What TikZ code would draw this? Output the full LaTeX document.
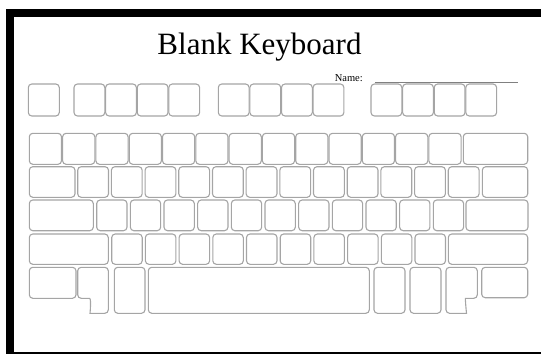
\documentclass[tikz,border=0pt]{standalone}
\usepackage{fontspec}
\setmainfont{Liberation Serif}
\definecolor{keygray}{RGB}{165,165,165}

\begin{document}
\begin{tikzpicture}[x=1pt, y=-1pt,
    key/.style={draw=keygray, line width=1.1pt, rounded corners=3.5pt},
    every node/.style={inner sep=0pt}]
        \useasboundingbox (0,0) rectangle (541,354);
        % frame
        \fill[black] (5.5,9.3) rectangle (541,17.3);
        \fill[black] (5.5,9.3) rectangle (13.5,354);
        \fill[black] (13.5,351.8) rectangle (541,354);
        % title
        \node[anchor=base] (title) at (259.5,54) {\fontsize{31}{36}\selectfont Blank Keyboard};
        \node[anchor=base east] (name) at (363,81.5) {\fontsize{10.5}{12}\selectfont Name:};
        \coordinate (l1) at (375,82.5);
        \coordinate (l2) at (518,82.5);
        \draw[gray, line width=0.7pt] (l1) -- (l2);
        % function row
        \draw[key] (28.3,84) rectangle (59.3,116);
        \foreach \s in {74,218.3,371}
            \foreach \i in {0,...,3}
                \draw[key] ({\s+31.6*\i},84) rectangle ({\s+31.6*\i+30.8},116);
        % number row
        \foreach \i in {0,...,12}
            \draw[key] ({29.3+33.3*\i},133.3) rectangle ({29.3+33.3*\i+32.2},164.3);
        \draw[key] (463.3,133.3) rectangle (527.7,164.3);
        % tab row
        \draw[key] (29.3,166.7) rectangle (75,197.3);
        \foreach \i in {0,...,11}
            \draw[key] ({77.7+33.69*\i},166.7) rectangle ({77.7+33.69*\i+30.8},197.3);
        \draw[key] (482.3,166.7) rectangle (527.7,197.3);
        % caps row
        \draw[key] (29.3,200) rectangle (93.3,230.7);
        \foreach \i in {0,...,10}
            \draw[key] ({96.7+33.66*\i},200) rectangle ({96.7+33.66*\i+30.3},230.7);
        \draw[key] (466,200) rectangle (528,230.7);
        % shift row
        \draw[key] (29.3,234) rectangle (108.3,264.3);
        \foreach \i in {0,...,9}
            \draw[key] ({111.7+33.7*\i},234) rectangle ({111.7+33.7*\i+30.5},264.3);
        \draw[key] (448.3,234) rectangle (527.7,264.3);
        % bottom row
        \draw[key] (29.3,267.3) rectangle (76,298.3);
        \draw[key] (93.5,313.3) .. controls (90,313.3) and (91.5,298.3) .. (86,298.3)
            -- (77.7,298.3) -- (77.7,267.3) -- (108.3,267.3) -- (108.3,313.3) -- cycle;
        \draw[key] (114.3,267.3) rectangle (145,313.3);
        \draw[key] (148.3,267.3) rectangle (369.3,313.3);
        \draw[key] (374,267.3) rectangle (405,313.3);
        \draw[key] (410,267.3) rectangle (441,313.3);
        \draw[key] (463,313.3) .. controls (466.5,313.3) and (465,298.3) .. (469,298.3)
            -- (477.3,298.3) -- (477.3,267.3) -- (446,267.3) -- (446,313.3) -- cycle;
        \draw[key] (481.7,267.3) rectangle (527.7,297.7);
    \end{tikzpicture}
\end{document}
